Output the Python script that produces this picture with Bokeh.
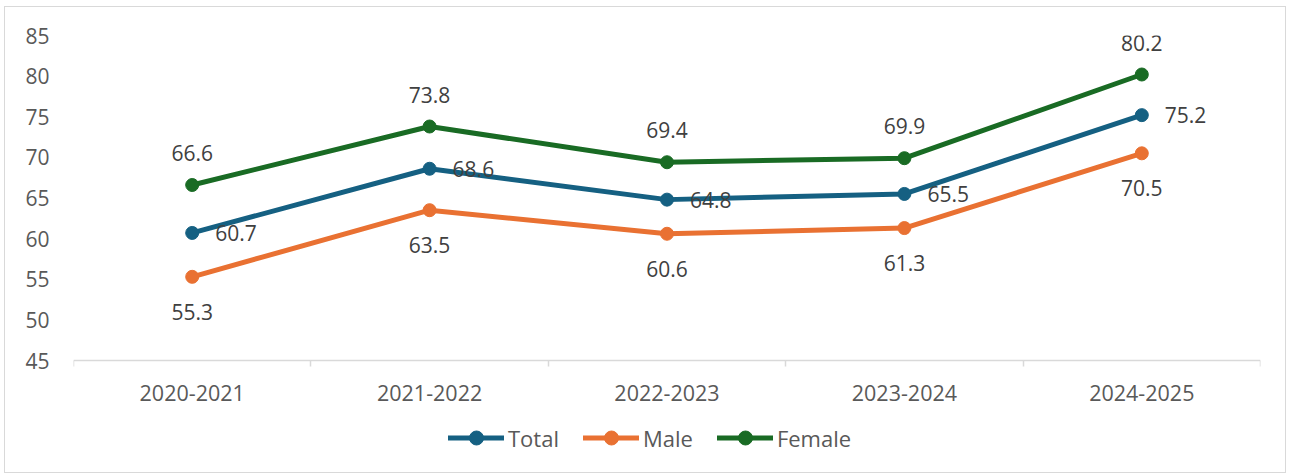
from bokeh.plotting import figure
from bokeh.models import Range1d, FixedTicker, Legend, LegendItem, ColumnDataSource
from bokeh.embed import file_html
from bokeh.resources import INLINE
from bokeh.core.properties import value

categories = ["2020-2021", "2021-2022", "2022-2023", "2023-2024", "2024-2025"]
total = [60.7, 68.6, 64.8, 65.5, 75.2]
male = [55.3, 63.5, 60.6, 61.3, 70.5]
female = [66.6, 73.8, 69.4, 69.9, 80.2]
y_ticks = [45, 50, 55, 60, 65, 70, 75, 80, 85]

xpos = [i + 0.5 for i in range(len(categories))]
bounds = list(range(len(categories) + 1))

FONT = "Open Sans"
W, H = 1282, 467
TOP = 28
PX_PER_UNIT = 8.125
ybot = y_ticks[-1] - (H - TOP) / PX_PER_UNIT

p = figure(width=W, height=H, output_backend="svg", toolbar_location=None,
           x_range=Range1d(0, len(categories)), y_range=Range1d(ybot, y_ticks[-1]),
           min_border_left=68, min_border_right=27, min_border_top=TOP, min_border_bottom=0)
p.styles = {"border": "1px solid #d9d9d9", "margin-left": "4px", "margin-top": "6px"}
p.outline_line_color = None
p.xgrid.grid_line_color = None
p.ygrid.grid_line_color = None
p.background_fill_color = "white"
p.border_fill_color = "white"

# x axis drawn at the bottom value of the value axis
xa = p.xaxis[0]
xa.fixed_location = y_ticks[0]
xa.ticker = FixedTicker(ticks=xpos, minor_ticks=bounds)
xa.major_label_overrides = {x: c for x, c in zip(xpos, categories)}
xa.axis_line_color = "#d9d9d9"
xa.axis_line_width = 1.5
xa.major_tick_out = 0
xa.major_tick_in = 0
xa.minor_tick_out = 6
xa.minor_tick_in = 0
xa.minor_tick_line_color = "#d9d9d9"
xa.minor_tick_line_width = 1.5
xa.major_label_standoff = 18
xa.major_label_text_font = FONT
xa.major_label_text_font_size = "21.5px"
xa.major_label_text_color = "#595959"

# y axis
ya = p.yaxis[0]
ya.ticker = FixedTicker(ticks=y_ticks)
ya.axis_line_color = None
ya.major_tick_line_color = None
ya.minor_tick_line_color = None
ya.major_label_standoff = 18
ya.major_label_text_font = FONT
ya.major_label_text_font_size = "21px"
ya.major_label_text_color = "#595959"

series = [("Total", total, "#156082"), ("Male", male, "#E97132"), ("Female", female, "#196B24")]
items = []
for name, vals, col in series:
    src = ColumnDataSource(dict(x=xpos, y=vals, t=[f"{v:.1f}" for v in vals]))
    ln = p.line("x", "y", source=src, line_color=col, line_width=5, line_cap="round", line_join="round")
    sc = p.scatter("x", "y", source=src, size=13, fill_color=col, line_color=col)
    items.append(LegendItem(label=name, renderers=[ln, sc]))
    if name == "Total":
        kw = dict(x_offset=23, y_offset=0, text_align="left", text_baseline="middle")
    elif name == "Male":
        kw = dict(x_offset=0, y_offset=35, text_align="center", text_baseline="middle")
    else:
        kw = dict(x_offset=0, y_offset=-32, text_align="center", text_baseline="middle")
    p.text("x", "y", text="t", source=src, text_font=value(FONT), text_font_size="21px",
           text_color="#404040", **kw)

legend = Legend(items=items, orientation="horizontal", location=(375, 19),
                glyph_width=56, glyph_height=35, label_height=35, label_standoff=4, spacing=24,
                padding=0, margin=0, border_line_color=None, background_fill_alpha=0,
                label_text_font=FONT, label_text_font_size="22px", label_text_color="#595959")
p.add_layout(legend)

open("out.html", "w").write(file_html(p, INLINE))
